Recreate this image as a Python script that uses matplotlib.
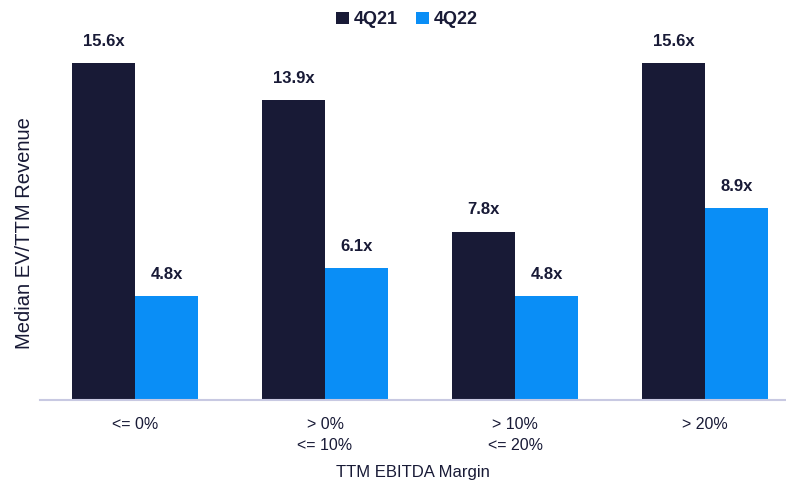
import numpy as np
import matplotlib.pyplot as plt

categories = ['<= 0%', '> 0%\n<= 10%', '> 10%\n<= 20%', '> 20%']
q21 = [15.6, 13.9, 7.8, 15.6]
q22 = [4.8, 6.1, 4.8, 8.9]

dark = '#181a36'
blue = '#0a8ef6'

plt.rcParams['font.family'] = ['Liberation Sans', 'DejaVu Sans']

fig = plt.figure(figsize=(7.86, 4.82), dpi=100)
ax = fig.add_axes([40/786, 82/482, 746/786, 380/482])

x = np.arange(len(categories))
w = 63/190
b1 = ax.bar(x - w/2, q21, w, color=dark, label='4Q21')
b2 = ax.bar(x + w/2, q22, w, color=blue, label='4Q22')

for bars in (b1, b2):
    for r in bars:
        ax.text(r.get_x() + r.get_width()/2, r.get_height() + 0.65,
                f'{r.get_height():.1f}x', ha='center', va='bottom',
                fontsize=12, fontweight='bold', color=dark)

ax.set_xlim(-0.5, 3.426)
ax.set_ylim(0, 380/21.6)
ax.set_xticks(x)
ax.set_xticklabels(categories, fontsize=11.5, color=dark, linespacing=1.5)
ax.tick_params(axis='x', length=0, pad=12)
ax.set_yticks([])
for s in ['top', 'right', 'left']:
    ax.spines[s].set_visible(False)
ax.spines['bottom'].set_color('#c8c9e2')
ax.spines['bottom'].set_linewidth(1.5)

ax.set_ylabel('Median EV/TTM Revenue', fontsize=14.5, color=dark)
ax.yaxis.set_label_coords(-6/746, 0.44)
ax.set_xlabel('TTM EBITDA Margin', fontsize=12, color=dark, labelpad=9)

fig.legend(handles=[b1, b2], loc='upper center', bbox_to_anchor=(0.518, 1.01),
           ncol=2, frameon=False, handlelength=0.7, handleheight=0.7,
           handletextpad=0.3, columnspacing=1.0,
           prop={'size': 13, 'weight': 'bold'}, labelcolor=dark)

fig.savefig('out.png', dpi=100)
